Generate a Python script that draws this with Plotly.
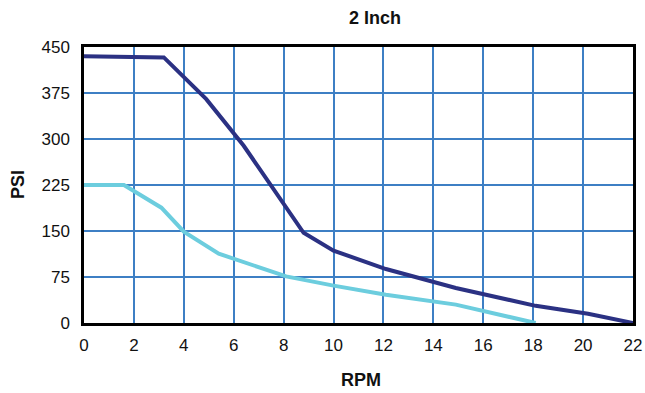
import plotly.graph_objects as go

dark_rpm = [0, 3.2, 4.9, 6.4, 8.8, 10.0, 12.1, 14.9, 18.1, 20.2, 22.0]
dark_psi = [435, 433, 365, 289, 147, 118, 88, 57, 28, 15, 0]
light_rpm = [0, 1.6, 3.1, 4.0, 5.4, 8.1, 10.0, 12.1, 14.9, 18.1]
light_psi = [225, 225, 188, 149, 113, 76, 61, 46, 30, 0]
x_ticks = list(range(0, 23, 2))
y_ticks = [0, 75, 150, 225, 300, 375, 450]

fig = go.Figure()
fig.add_trace(go.Scatter(x=dark_rpm, y=dark_psi, mode="lines",
                         line=dict(color="#2B3183", width=4), showlegend=False))
fig.add_trace(go.Scatter(x=light_rpm, y=light_psi, mode="lines",
                         line=dict(color="#6CCDDE", width=4), showlegend=False))

font = "Liberation Sans, Arial, sans-serif"
grid = "#3D7FC4"
W, H = 645, 393
L, R, T, B = 84, 633, 47, 323
pw, ph = R - L, B - T
fig.update_layout(
    width=W, height=H,
    margin=dict(l=L, r=W - R, t=T, b=H - B, autoexpand=False),
    paper_bgcolor="white", plot_bgcolor="white",
    font=dict(family=font, size=17, color="#111"),
    xaxis=dict(range=[0, 22], tickvals=x_ticks, showgrid=True, gridcolor=grid, gridwidth=1.6,
               showline=True, linecolor="black", linewidth=2.5, mirror=True, ticks="",
               zeroline=False, automargin=False, ticklabelstandoff=5, ticklabeloverflow="allow"),
    yaxis=dict(range=[0, 450], tickvals=y_ticks, showgrid=True, gridcolor=grid, gridwidth=1.6,
               showline=True, linecolor="black", linewidth=2.5, mirror=True, ticks="",
               zeroline=False, automargin=False, ticklabelstandoff=8),
    annotations=[
        dict(text="<b>2 Inch</b>", x=(375 - L) / pw, y=1 + (T - 18) / ph, xref="paper", yref="paper",
             showarrow=False, font=dict(size=18), xanchor="center", yanchor="middle"),
        dict(text="<b>RPM</b>", x=(361 - L) / pw, y=-(380 - B) / ph, xref="paper", yref="paper",
             showarrow=False, font=dict(size=18), xanchor="center", yanchor="middle"),
        dict(text="<b>PSI</b>", x=-(L - 18) / pw, y=(B - 185) / ph, xref="paper", yref="paper",
             showarrow=False, font=dict(size=18), textangle=-90, xanchor="center", yanchor="middle"),
    ],
)
fig.write_html("out.html", config={"displayModeBar": False},
               post_script="document.body.style.margin='0px';")
